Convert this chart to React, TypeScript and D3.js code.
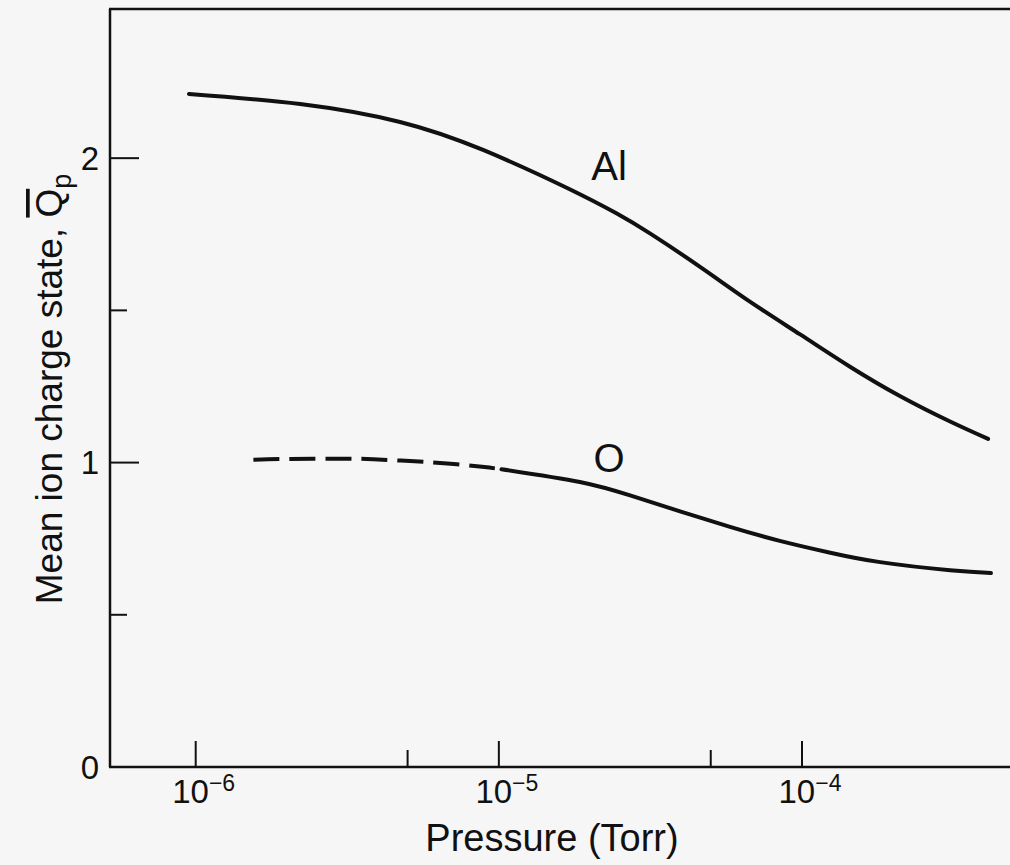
import React from "react";
import * as d3 from "d3";

// ---- data ----
const alPressure = [9.5e-7, 2.21e-6, 4.72e-6, 8.87e-6, 1.68e-5, 2.45e-5, 3.16e-5, 4.61e-5, 6.75e-5, 9.86e-5, 1.44e-4, 2.11e-4, 3.08e-4, 4.11e-4];
const alCharge = [2.211, 2.178, 2.119, 2.027, 1.902, 1.818, 1.752, 1.643, 1.528, 1.421, 1.315, 1.218, 1.135, 1.078];

const oDashedPressure = [1.55e-6, 2.05e-6, 3.06e-6, 3.85e-6, 5.09e-6, 6.75e-6, 8.8e-6, 9.7e-6];
const oDashedCharge = [1.009, 1.012, 1.013, 1.011, 1.005, 0.997, 0.986, 0.981];

const oSolidPressure = [1.02e-5, 1.85e-5, 2.71e-5, 3.96e-5, 5.79e-5, 8.45e-5, 1.24e-4, 1.81e-4, 3.08e-4, 4.2e-4];
const oSolidCharge = [0.978, 0.936, 0.892, 0.84, 0.789, 0.743, 0.704, 0.673, 0.646, 0.637];

const xMajorTicks = [1e-6, 1e-5, 1e-4];
const xMajorExponents = ["\u22126", "\u22125", "\u22124"];
const xMinorTicks = [5e-6, 5e-5];
const yMajorTicks = [0, 1, 2];
const yMinorTicks = [0.5, 1.5];

const seriesLabels = [
  { text: "Al", p: 2.31e-5, q: 1.929 },
  { text: "O", p: 2.31e-5, q: 0.969 },
];

const W = 1010;
const H = 865;
const FONT = "'Liberation Sans', Arial, Helvetica, sans-serif";

export default function App() {
  const left = 110, right = 1010, top = 9, bottom = 767;
  const x = d3.scaleLog().domain([Math.pow(10, -6.2827), Math.pow(10, -3.3139)]).range([left, right]);
  const y = d3.scaleLinear().domain([0, 2.49]).range([bottom, top]);

  const line = d3
    .line<[number, number]>()
    .x((d) => x(d[0]))
    .y((d) => y(d[1]))
    .curve(d3.curveNatural);

  const alPath = line(alPressure.map((p, i) => [p, alCharge[i]]))!;
  const oDashPath = line(oDashedPressure.map((p, i) => [p, oDashedCharge[i]]))!;
  const oSolidPath = line(oSolidPressure.map((p, i) => [p, oSolidCharge[i]]))!;

  const ink = "#111";
  const yTitleX = 62;
  const yTitleY = 389;

  return (
    <svg
      width={W}
      height={H}
      style={{ position: "absolute", left: 0, top: 0, display: "block" }}
      fontFamily={FONT}
    >
      <rect x={0} y={0} width={W} height={H} fill="#f6f6f6" />

      {/* frame */}
      <line x1={left} y1={top} x2={left} y2={bottom} stroke={ink} strokeWidth={2.5} />
      <line x1={left - 1} y1={top} x2={right} y2={top} stroke={ink} strokeWidth={2.5} />
      <line x1={left - 1} y1={bottom} x2={right} y2={bottom} stroke={ink} strokeWidth={2.5} />

      {/* y ticks */}
      {yMajorTicks.filter((t) => t > 0).map((t) => (
        <line key={"ym" + t} x1={left} x2={left + 29} y1={y(t)} y2={y(t)} stroke={ink} strokeWidth={2} />
      ))}
      {yMinorTicks.map((t) => (
        <line key={"yn" + t} x1={left} x2={left + 17} y1={y(t)} y2={y(t)} stroke={ink} strokeWidth={2} />
      ))}
      {yMajorTicks.map((t) => (
        <text key={"yl" + t} x={99} y={y(t)} dy="0.36em" textAnchor="end" fontSize={33} fill={ink}>
          {t}
        </text>
      ))}

      {/* x ticks */}
      {xMajorTicks.map((t) => (
        <line key={"xm" + t} x1={x(t)} x2={x(t)} y1={bottom} y2={bottom - 26} stroke={ink} strokeWidth={2} />
      ))}
      {xMinorTicks.map((t) => (
        <line key={"xn" + t} x1={x(t)} x2={x(t)} y1={bottom} y2={bottom - 17} stroke={ink} strokeWidth={2} />
      ))}
      {xMajorTicks.map((t, i) => (
        <text key={"xl" + t} x={x(t) + 8} y={803} textAnchor="middle" fontSize={33} fill={ink}>
          10
          <tspan dy={-12} fontSize={23}>
            {xMajorExponents[i]}
          </tspan>
        </text>
      ))}

      {/* axis titles */}
      <text x={(left + right) / 2 - 8} y={851} textAnchor="middle" fontSize={38} fill={ink}>
        Pressure (Torr)
      </text>
      <text
        x={yTitleX}
        y={yTitleY}
        transform={`rotate(-90, ${yTitleX}, ${yTitleY})`}
        textAnchor="middle"
        fontSize={37}
        fill={ink}
      >
        Mean ion charge state,{" "}
        <tspan style={{ textDecoration: "overline" }}>Q</tspan>
        <tspan dy={9} fontSize={27}>p</tspan>
      </text>

      {/* curves */}
      <path d={alPath} fill="none" stroke={ink} strokeWidth={4} strokeLinecap="round" />
      <path d={oDashPath} fill="none" stroke={ink} strokeWidth={4} strokeDasharray="26 10" />
      <path d={oSolidPath} fill="none" stroke={ink} strokeWidth={4} strokeLinecap="round" />

      {/* series labels */}
      {seriesLabels.map((l) => (
        <text key={l.text} x={x(l.p)} y={y(l.q)} textAnchor="middle" fontSize={40} fill={ink}>
          {l.text}
        </text>
      ))}
    </svg>
  );
}
